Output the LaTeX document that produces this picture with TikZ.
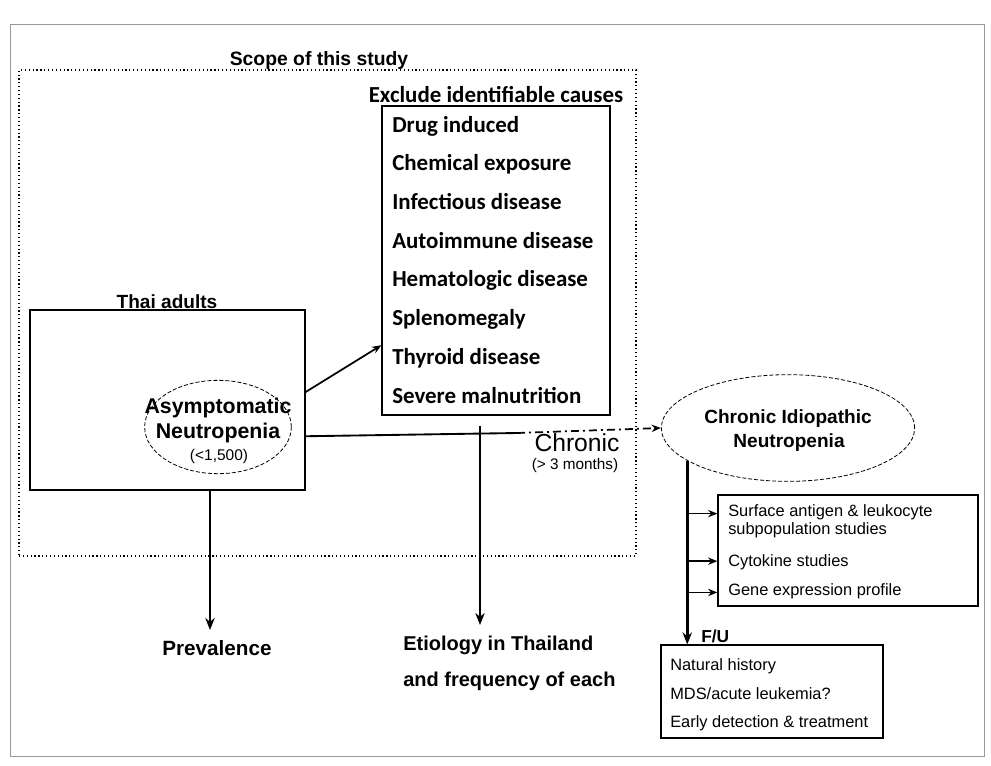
\documentclass[tikz,border=0pt]{standalone}
\usepackage{fontspec}
\setmainfont{Liberation Sans}
\newfontfamily\calibfont{Carlito}
\usetikzlibrary{shapes.geometric,arrows.meta,fit,calc}
\begin{document}
\begin{tikzpicture}[x=0.75pt,y=-0.75pt,
  box/.style={draw, line width=0.9pt, inner sep=0pt},
  oval/.style={ellipse, draw, dash pattern=on 3pt off 1.5pt, line width=0.6pt, inner sep=0pt},
  arr/.style={line width=1.3pt, -{Stealth[length=7pt,width=5.5pt]}},
  bigarr/.style={line width=2pt, -{Stealth[length=9pt,width=7pt]}},
  txt/.style={inner sep=0pt, anchor=base west},
  ctxt/.style={inner sep=0pt, anchor=base},
  cause/.style={txt, font=\calibfont\bfseries\fontsize{17.2}{20}\selectfont},
  small/.style={txt, font=\fontsize{12.3}{14}\selectfont},
]
\useasboundingbox (0,0) rectangle (991,765);
% outer frame
\node[fit={(10,24) (984,756)}, draw=gray!80, line width=0.6pt, inner sep=0pt] (frame) {};
% scope dotted box
\node[fit={(19,70) (636,556)}, draw, dotted, line width=0.9pt, inner sep=0pt] (scope) {};
\node[ctxt, font=\bfseries\fontsize{14.5}{17}\selectfont] (scopelbl) at (319,65) {Scope of this study};

% causes
\node[cause, anchor=base] (exclbl) at (496,102) {Exclude identifiable causes};
\node[box, fit={(382,106) (610,415)}] (causes) {};
\node[cause] (c1) at (392,132) {Drug induced};
\node[cause] (c2) at (392,170.7) {Chemical exposure};
\node[cause] (c3) at (392,209.4) {Infectious disease};
\node[cause] (c4) at (392,248.1) {Autoimmune disease};
\node[cause] (c5) at (392,286.9) {Hematologic disease};
\node[cause] (c6) at (392,325.6) {Splenomegaly};
\node[cause] (c7) at (392,364.3) {Thyroid disease};
\node[cause] (c8) at (392,403) {Severe malnutrition};

% Thai adults
\node[box, fit={(30,310) (305,490)}] (thai) {};
\node[ctxt, font=\bfseries\fontsize{14.3}{17}\selectfont] (thailbl) at (167,308) {Thai adults};
\node[oval, minimum width=110pt, minimum height=70pt] (asym) at (218,427) {};
\node[ctxt, font=\bfseries\fontsize{16}{19}\selectfont] (asym1) at (218,413) {Asymptomatic};
\node[ctxt, font=\bfseries\fontsize{16}{19}\selectfont] (asym2) at (218,438) {Neutropenia};
\node[ctxt, font=\fontsize{11.6}{14}\selectfont] (asym3) at (219,460) {(<1,500)};

% Chronic idiopathic
\node[oval, minimum width=190pt, minimum height=80pt] (chronic) at (788,428) {};
\node[ctxt, font=\bfseries\fontsize{14.3}{17}\selectfont] (ch1) at (788,423) {Chronic Idiopathic};
\node[ctxt, font=\bfseries\fontsize{14.3}{17}\selectfont] (ch2) at (789,447) {Neutropenia};

\node[ctxt, font=\fontsize{18.5}{22}\selectfont] (chr) at (577,451) {Chronic};
\node[ctxt, font=\fontsize{11.5}{14}\selectfont] (chrm) at (575,469) {(> 3 months)};

% studies box
\node[box, fit={(718,495) (978,606)}] (studies) {};
\node[small] (s1t) at (728,516.5) {Surface antigen \& leukocyte};
\node[small] (s2t) at (728,534) {subpopulation studies};
\node[small] (s3t) at (728,566) {Cytokine studies};
\node[small] (s4t) at (728,595) {Gene expression profile};

% F/U box
\node[box, fit={(661,645) (883,738)}] (fu) {};
\node[small] (f1) at (670,670) {Natural history};
\node[small] (f2) at (670,699) {MDS/acute leukemia?};
\node[small] (f3) at (670,727) {Early detection \& treatment};
\node[txt, font=\bfseries\fontsize{13}{15}\selectfont] (fulbl) at (701,642) {F/U};

% outputs
\node[ctxt, font=\bfseries\fontsize{15.5}{18}\selectfont] (prev) at (217,655) {Prevalence};
\node[txt, font=\bfseries\fontsize{15}{18}\selectfont] (etio1) at (403,650) {Etiology in Thailand};
\node[txt, font=\bfseries\fontsize{15}{18}\selectfont] (etio2) at (403,686) {and frequency of each};

% connectors
\coordinate (prevtop) at (210,630);
\coordinate (etiotop) at (480,625);
\coordinate (split) at (517,433);
\draw[bigarr] (thai.south -| prevtop) -- (prevtop);
\draw[bigarr] ($(causes.south -| etiotop)+(0,10)$) -- (etiotop);
\draw[arr] ($(thai.north east)!0.456!(thai.south east)$) -- ($(causes.north west)!0.773!(causes.south west)$);
\draw[line width=1.4pt] ($(thai.north east)!0.7!(thai.south east)$) -- (split);
\draw[arr, dash pattern=on 6pt off 3pt on 1.5pt off 3pt] (split) -- (chronic.west);

\coordinate (b1) at ($(studies.north west)!0.171!(studies.south west)$);
\coordinate (b2) at ($(studies.north west)!0.595!(studies.south west)$);
\coordinate (b3) at ($(studies.north west)!0.874!(studies.south west)$);
\draw[bigarr] (chronic.198) -- (chronic.198 |- fu.north);
\draw[arr] (chronic.198 |- b1) -- (b1);
\draw[arr] (chronic.198 |- b2) -- (b2);
\draw[arr] (chronic.198 |- b3) -- (b3);
\end{tikzpicture}
\end{document}
